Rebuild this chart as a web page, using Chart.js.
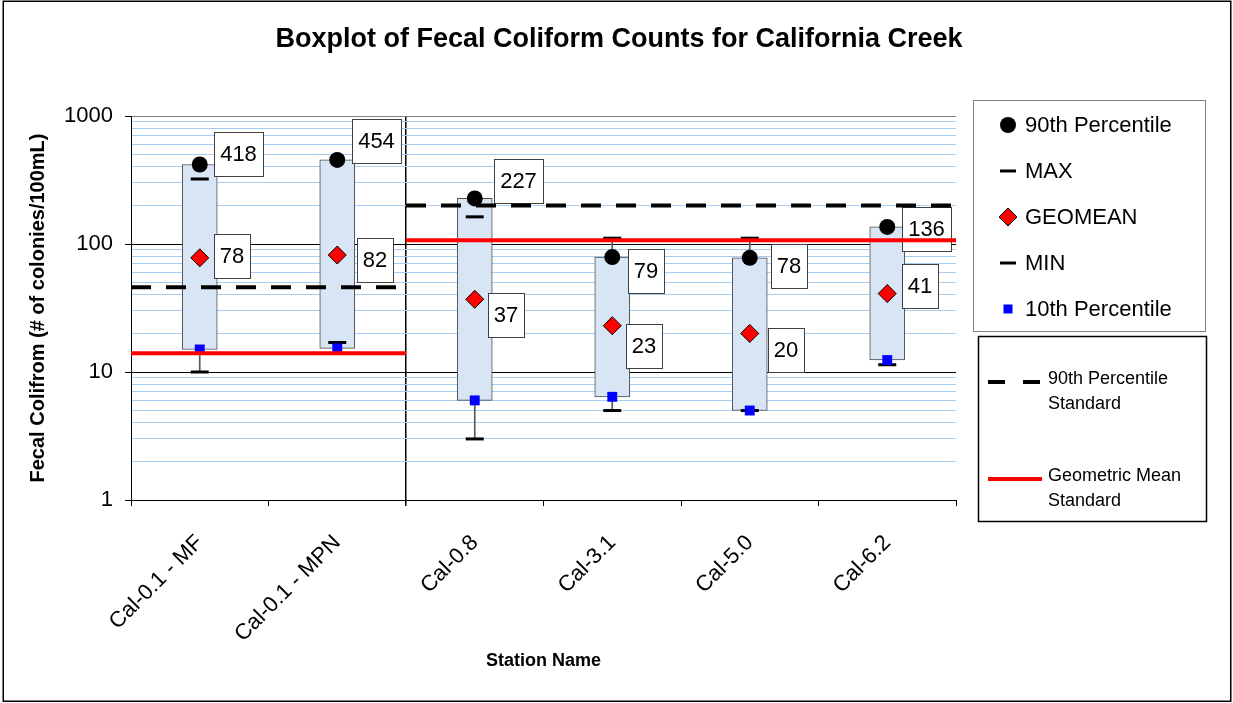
<!DOCTYPE html>
<html>
<head>
<meta charset="utf-8">
<title>Boxplot of Fecal Coliform Counts for California Creek</title>
<script src="https://cdn.jsdelivr.net/npm/chart.js@4.4.0/dist/chart.umd.min.js"></script>
<style>
  html, body { margin: 0; padding: 0; background: #fff; }
  #wrap { position: relative; width: 1233px; height: 703px; }
</style>
</head>
<body>
<div id="wrap"><canvas id="boxChart"></canvas></div>
<script>
// ===== data =====
const stations = ["Cal-0.1 - MF", "Cal-0.1 - MPN", "Cal-0.8", "Cal-3.1", "Cal-5.0", "Cal-6.2"];
const pct90 = [418, 454, 227, 79, 78, 136];
const maxVals = [322, null, 163, 111, 111, null];
const geomean = [78, 82, 37, 23, 20, 41];
const minVals = [10, 17, 3, 5, 5, 11.4];
const pct10 = [15, 15.3, 6, 6.4, 5, 12.4];
const std90 = [46, 46, 200, 200, 200, 200];   // 90th percentile standard per station
const stdGeo = [14, 14, 107, 107, 107, 107];  // geometric mean standard per station
const yMajorTicks = [1, 10, 100, 1000];

const FONT = 'Arial, "Liberation Sans", sans-serif';
Chart.defaults.font.family = FONT;
Chart.defaults.color = "#000";

// standard lines run across whole station slots, broken where the value changes
function stepLine(vals) {
  const pts = [];
  vals.forEach((v, i) => {
    if (i > 0 && v !== vals[i - 1]) pts.push({ x: i, y: null });
    pts.push({ x: i, y: v }, { x: i + 1, y: v });
  });
  return pts;
}

// box = 10th..90th percentile, high-low line = lowest..highest value of the station
const boxes = stations.map((_, i) => [pct10[i], pct90[i]]);
const hiLo = stations.map((_, i) => {
  const v = [pct90[i], maxVals[i], geomean[i], minVals[i], pct10[i]].filter(d => d != null);
  return [Math.min(...v), Math.max(...v)];
});

const isMajor = v => Math.abs(Math.log10(v) - Math.round(Math.log10(v))) < 1e-9;

// ===== value labels (white boxes next to the points) =====
const valueLabels = {
  id: "valueLabels",
  beforeDatasetsDraw(chart) { chart._labelsDone = false; },
  beforeDatasetDraw(chart, args) {
    const ds = chart.data.datasets[args.index];
    if (!ds.isStandard || chart._labelsDone) return;
    chart._labelsDone = true;
    const ctx = chart.ctx;
    ctx.save();
    ctx.font = "22px " + FONT;
    chart.data.datasets.forEach((d, di) => {
      if (!d.valueLabel) return;
      const meta = chart.getDatasetMeta(di);
      meta.data.forEach((el, i) => {
        const v = d.data[i];
        if (v == null) return;
        const text = String(v);
        const w = Math.round(ctx.measureText(text).width + 12);
        const h = 44;
        const left = Math.round(el.x + d.valueLabel.dx[i]);
        const top = Math.round(el.y + d.valueLabel.dy[i] - h / 2);
        ctx.fillStyle = "#fff";
        ctx.fillRect(left, top, w, h);
        ctx.strokeStyle = "#404040";
        ctx.lineWidth = 1;
        ctx.strokeRect(left + 0.5, top + 0.5, w, h);
        ctx.fillStyle = "#000";
        ctx.textAlign = "center";
        ctx.textBaseline = "middle";
        ctx.fillText(text, left + w / 2, top + h / 2 + 1);
      });
    });
    ctx.restore();
  }
};

// ===== legend boxes + outer frame =====
const sideLegend = {
  id: "sideLegend",
  afterDraw(chart) {
    const ctx = chart.ctx;
    const sets = chart.data.datasets;
    ctx.save();

    // box 1: point series
    ctx.strokeStyle = "#808080";
    ctx.lineWidth = 1;
    ctx.strokeRect(973.5, 100.5, 232, 231);
    const pointSets = sets.filter(d => d.legendRow != null).sort((a, b) => a.legendRow - b.legendRow);
    pointSets.forEach((d, k) => {
      const y = 125 + 46 * k, x = 1008;
      ctx.beginPath();
      if (d.pointStyle === "circle") {
        ctx.arc(x, y, d.pointRadius, 0, Math.PI * 2);
        ctx.fillStyle = d.pointBackgroundColor; ctx.fill();
      } else if (d.pointStyle === "line") {
        ctx.moveTo(x - 8, y); ctx.lineTo(x + 8, y);
        ctx.strokeStyle = d.pointBorderColor; ctx.lineWidth = d.pointBorderWidth; ctx.stroke();
      } else if (d.pointStyle === "rectRot") {
        const r = d.pointRadius;
        ctx.moveTo(x - r, y); ctx.lineTo(x, y - r); ctx.lineTo(x + r, y); ctx.lineTo(x, y + r); ctx.closePath();
        ctx.fillStyle = d.pointBackgroundColor; ctx.fill();
        ctx.strokeStyle = d.pointBorderColor; ctx.lineWidth = d.pointBorderWidth; ctx.stroke();
      } else {
        ctx.fillStyle = d.pointBackgroundColor;
        ctx.fillRect(x - 4.5, y - 4.5, 9, 9);
      }
      ctx.fillStyle = "#000";
      ctx.font = "22px " + FONT;
      ctx.textAlign = "left";
      ctx.textBaseline = "middle";
      ctx.fillText(d.label, 1025, y + 1);
    });

    // box 2: standards
    ctx.strokeStyle = "#000";
    ctx.lineWidth = 1.5;
    ctx.strokeRect(978.5, 336.5, 228, 185);
    const stdSets = sets.filter(d => d.isStandard).sort((a, b) => a.legendRow2 - b.legendRow2);
    stdSets.forEach((d, k) => {
      const y = 382 + 97 * k;
      ctx.beginPath();
      ctx.setLineDash(d.borderDash ? [17, 18] : []);
      ctx.moveTo(988, y); ctx.lineTo(1042, y);
      ctx.strokeStyle = d.borderColor; ctx.lineWidth = 4; ctx.stroke();
      ctx.setLineDash([]);
      ctx.fillStyle = "#000";
      ctx.font = "18px " + FONT;
      ctx.textAlign = "left";
      ctx.textBaseline = "middle";
      d.legendText.forEach((t, j) => ctx.fillText(t, 1048, y - 3 + 25 * j));
    });

    // chart frame
    ctx.strokeStyle = "#000";
    ctx.lineWidth = 1.5;
    ctx.strokeRect(3.25, 1.25, 1227.5, 700);
    ctx.restore();
  }
};

const ctx = document.getElementById("boxChart");
new Chart(ctx, {
  type: "bar",
  data: {
    labels: stations,
    datasets: [
      {
        type: "line", label: "Geometric Mean Standard", legendText: ["Geometric Mean", "Standard"],
        isStandard: true, legendRow2: 1, data: stepLine(stdGeo), xAxisID: "xl",
        borderColor: "#FF0000", borderWidth: 4, pointRadius: 0, spanGaps: false, order: 0
      },
      {
        type: "line", label: "90th Percentile Standard", legendText: ["90th Percentile", "Standard"],
        isStandard: true, legendRow2: 0, data: stepLine(std90), xAxisID: "xl",
        borderColor: "#000", borderWidth: 4, borderDash: [20, 15], pointRadius: 0, spanGaps: false, order: 0
      },
      {
        type: "line", label: "90th Percentile", legendRow: 0, data: pct90, showLine: false,
        pointStyle: "circle", pointRadius: 8, pointBackgroundColor: "#000", pointBorderColor: "#000",
        pointBorderWidth: 0, order: 1,
        valueLabel: { dx: [14, 15, 19, 16, 21, 15], dy: [-10, -19, -17, 14, 8, 2] }
      },
      {
        type: "line", label: "10th Percentile", legendRow: 4, data: pct10, showLine: false,
        pointStyle: "rect", pointRadius: 7, pointBackgroundColor: "#0000FF", pointBorderColor: "#0000FF",
        pointBorderWidth: 0, order: 1
      },
      {
        type: "line", label: "MAX", legendRow: 1, data: maxVals, showLine: false,
        pointStyle: "line", pointRadius: 9, pointBorderColor: "#000", pointBorderWidth: 3, order: 2
      },
      {
        type: "line", label: "GEOMEAN", legendRow: 2, data: geomean, showLine: false,
        pointStyle: "rectRot", pointRadius: 9, pointBackgroundColor: "#FF0000", pointBorderColor: "#000",
        pointBorderWidth: 1, order: 2,
        valueLabel: { dx: [14, 20, 13, 14, 18, 15], dy: [-2, 5, 16, 20, 17, -8] }
      },
      {
        type: "line", label: "MIN", legendRow: 3, data: minVals, showLine: false,
        pointStyle: "line", pointRadius: 9, pointBorderColor: "#000", pointBorderWidth: 3, order: 2
      },
      {
        type: "bar", label: "10th-90th", data: boxes, backgroundColor: "#D8E5F4",
        borderColor: "#4D4D4D", borderWidth: 1, borderSkipped: false, barThickness: 35,
        grouped: false, order: 3
      },
      {
        type: "bar", label: "High-Low", data: hiLo, backgroundColor: "#595959",
        borderWidth: 0, barThickness: 1, grouped: false, order: 4
      }
    ]
  },
  options: {
    responsive: true,
    maintainAspectRatio: false,
    animation: false,
    events: [],
    layout: { padding: { left: 22, right: 17, top: 10, bottom: 27 } },
    plugins: {
      legend: { display: false },
      tooltip: { enabled: false },
      title: {
        display: true,
        text: "Boxplot of Fecal Coliform Counts for California Creek",
        color: "#000",
        font: { size: 27, weight: "bold" },
        padding: { top: 13.8, bottom: 59.8 }
      }
    },
    scales: {
      x: {
        type: "category",
        offset: true,
        z: 1,
        grid: {
          offset: true,
          color: c => c.index === 2 ? "#000" : (c.index === stations.length ? "#808080" : "transparent"),
          lineWidth: c => c.index === 2 ? 1.5 : 1,
          tickColor: "#000",
          tickLength: 6
        },
        border: { color: "#000", width: 1 },
        ticks: { color: "#000", font: { size: 22 }, maxRotation: 45, minRotation: 45, padding: 24, autoSkip: false },
        title: { display: true, text: "Station Name", color: "#000", font: { size: 18, weight: "bold" }, padding: { top: 4, bottom: 4 } },
        afterFit: s => { s.height = 176; }
      },
      xl: { type: "linear", display: false, offset: false, min: 0, max: stations.length },
      y: {
        type: "logarithmic",
        position: "left",
        min: 1,
        max: 1000,
        afterBuildTicks: s => {
          s.ticks = s.ticks.filter(t => {
            const m = t.value / Math.pow(10, Math.floor(Math.log10(t.value) + 1e-9));
            return Math.abs(m - Math.round(m)) < 1e-6;
          });
        },
        grid: {
          color: c => {
            const v = c.tick.value;
            if (v === 1000) return "#808080";
            return isMajor(v) ? "#000" : "#A6CDF2";
          },
          tickColor: c => isMajor(c.tick.value) ? "#000" : "transparent",
          tickLength: 6,
          lineWidth: 1
        },
        border: { color: "#000", width: 1 },
        ticks: {
          autoSkip: false,
          color: "#000",
          font: { size: 22 },
          padding: 12,
          callback: v => yMajorTicks.includes(v) ? String(v) : ""
        },
        title: {
          display: true,
          text: "Fecal Colifrom (# of colonies/100mL)",
          color: "#000",
          font: { size: 20, weight: "bold" },
          padding: { top: 4, bottom: 4 }
        },
        afterFit: s => { s.width = 109; }
      },
      y2: {
        position: "right",
        display: true,
        grid: { display: false },
        border: { display: false },
        ticks: { display: false },
        afterFit: s => { s.width = 260; }
      }
    }
  },
  plugins: [valueLabels, sideLegend]
});
</script>
</body>
</html>
